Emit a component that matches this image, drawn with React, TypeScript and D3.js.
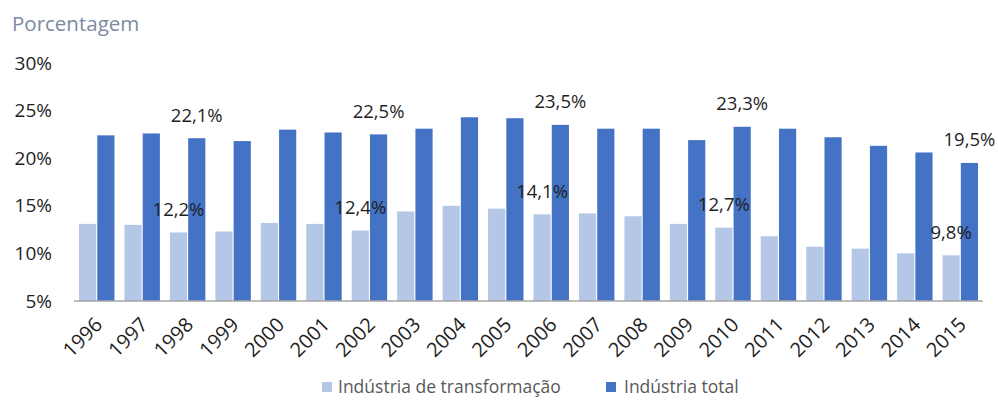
import * as d3 from 'd3';
import React from 'react';

// anos e valores (%)
const years = ['1996','1997','1998','1999','2000','2001','2002','2003','2004','2005','2006','2007','2008','2009','2010','2011','2012','2013','2014','2015'];
const transformacao = [13.1,13.0,12.2,12.3,13.2,13.1,12.4,14.4,15.0,14.7,14.1,14.2,13.9,13.1,12.7,11.8,10.7,10.5,10.0,9.8];
const total = [22.4,22.6,22.1,21.8,23.0,22.7,22.5,23.1,24.3,24.2,23.5,23.1,23.1,21.9,23.3,23.1,22.2,21.3,20.6,19.5];
const labeledYears = ['1998','2002','2006','2010','2015'];
const yTicks = [5,10,15,20,25,30];
const seriesNames = ['Indústria de transformação','Indústria total'];
const colors = ['#b4c7e7','#4472c4'];

const width = 998;
const height = 400;
const font = '"Open Sans", sans-serif';

function fmt(v: number) {
  return v.toFixed(1).replace('.', ',') + '%';
}

export default function App() {
  const x0 = d3.scaleBand().domain(years).range([74, 983]).paddingInner(0.22).paddingOuter(0.11);
  const x1 = d3.scaleBand().domain(seriesNames).range([0, x0.bandwidth()]).paddingInner(0.06);
  const y = d3.scaleLinear().domain([5, 30]).range([301, 63]);

  const series = [transformacao, total];

  return (
    <svg width={width} height={height} style={{position:'absolute', left:0, top:0, background:'#fff'}}>
      <text x={12} y={24} dy="0.35em" fontFamily={font} fontSize={20.5} fill="#7b8aa3">Porcentagem</text>

      {yTicks.map(t => (
        <text key={t} x={52} y={y(t)} dy="0.35em" textAnchor="end" fontFamily={font} fontSize={19} fill="#1f1f1f">{t}%</text>
      ))}

      {series.map((vals, si) => (
        <g key={si}>
          {vals.map((v, i) => (
            <rect key={i}
              x={x0(years[i])! + x1(seriesNames[si])!}
              y={y(v)}
              width={x1.bandwidth()}
              height={y(5) - y(v)}
              fill={colors[si]} />
          ))}
        </g>
      ))}

      <line x1={74} x2={983} y1={y(5)} y2={y(5)} stroke="#a6a6a6" strokeWidth={1.5} />

      {series.map((vals, si) => (
        <g key={'l' + si}>
          {vals.map((v, i) => labeledYears.includes(years[i]) ? (
            <text key={i}
              x={x0(years[i])! + x1(seriesNames[si])! + x1.bandwidth() / 2}
              y={y(v) - 23}
              dy="0.35em"
              textAnchor="middle" fontFamily={font} fontSize={18.5} fill="#1f1f1f">{fmt(v)}</text>
          ) : null)}
        </g>
      ))}

      {years.map(yr => {
        const cx = x0(yr)! + x0.bandwidth() / 2 + 2;
        return (
          <text key={yr} transform={`translate(${cx},${321}) rotate(-45)`}
            textAnchor="end" dy="0.35em" fontFamily={font} fontSize={20} fill="#1f1f1f">{yr}</text>
        );
      })}

      <g transform="translate(322,387)">
        <rect x={0} y={-5} width={10} height={10} fill={colors[0]} />
        <text x={16} y={0} dy="0.35em" fontFamily={font} fontSize={17.5} fill="#595959">{seriesNames[0]}</text>
        <rect x={284} y={-5} width={10} height={10} fill={colors[1]} />
        <text x={302} y={0} dy="0.35em" fontFamily={font} fontSize={17.5} fill="#595959">{seriesNames[1]}</text>
      </g>
    </svg>
  );
}
